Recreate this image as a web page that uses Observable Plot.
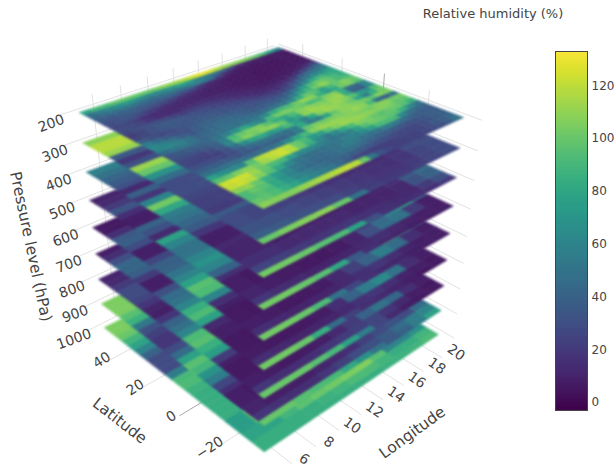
<!DOCTYPE html>
<html><head><meta charset="utf-8">
<script src="https://cdn.jsdelivr.net/npm/d3@7"></script>
<script src="https://cdn.jsdelivr.net/npm/@observablehq/plot@0.6"></script>
<style>
html,body{margin:0;background:#fff}
#wrap{position:relative;width:616px;height:468px;overflow:hidden}
#wrap svg{position:absolute;top:0;left:0}
g.layer{filter:blur(0.9px) saturate(.88)}
g.barfill{filter:saturate(.88)}
</style></head><body><div id="wrap"></div>
<script>
const levels=[200,300,400,500,600,700,800,900,1000];
const lonTicks=[6,8,10,12,14,16,18,20];
const latTicks=[40,20,0,-20];
const barTicks=[0,20,40,60,80,100,120];
const lonRange=[4.73,20.58], latRange=[-36.7,50.2];
// 200 hPa, rows from north to south, columns from west to east
const rh200=[
[80,90,92,97,99,99,99,100,104,108,111,116,122,128,126,118,111,108,106,104,99,92,77,60],
[50,58,63,69,72,68,63,63,66,69,77,72,60,55,50,40,25,12,10,8,8,6,6,8],
[42,45,50,52,52,48,45,48,50,50,52,55,55,45,25,12,8,5,5,5,5,5,5,5],
[36,36,38,40,38,38,36,36,36,30,28,20,12,10,8,6,5,5,4,4,4,4,5,5],
[30,32,34,34,32,28,26,22,18,14,12,10,9,8,6,5,5,4,4,4,4,4,5,5],
[28,30,30,26,20,18,15,13,11,10,9,8,8,7,6,5,5,4,4,4,4,5,5,6],
[26,26,22,16,13,12,11,11,11,10,9,9,8,7,6,5,5,4,4,5,5,6,7,9],
[28,28,24,18,14,13,13,15,15,14,13,12,10,9,7,6,5,5,5,6,7,9,14,25],
[25,28,30,30,28,24,20,22,22,20,18,15,12,10,9,8,7,7,8,10,14,25,35,45],
[20,25,30,34,35,34,32,30,28,25,22,20,16,13,11,10,10,11,14,22,38,48,50,58],
[25,26,30,33,34,33,33,33,32,30,28,26,23,19,15,14,15,20,28,42,52,63,68,77],
[38,30,26,28,31,33,35,35,34,32,30,30,28,26,24,22,24,30,45,60,80,90,84,80],
[55,45,35,30,30,36,40,40,40,38,36,33,32,32,30,32,38,52,75,92,102,99,92,84],
[63,58,50,38,33,38,42,44,44,42,38,35,36,38,38,42,55,77,88,102,110,99,90,90],
[60,63,58,50,40,42,44,46,46,45,44,42,44,48,50,60,80,99,95,77,90,99,106,99],
[45,50,52,48,42,44,48,50,48,50,52,60,80,90,92,102,110,106,84,72,80,102,104,95],
[32,35,38,40,42,50,56,68,80,68,60,90,102,104,102,99,90,92,104,108,85,45,42,60],
[30,30,32,35,40,55,90,99,104,106,95,84,80,92,106,110,106,104,110,111,80,38,36,62],
[26,25,24,28,36,60,95,106,102,108,109,99,72,80,108,112,111,108,111,106,95,75,68,95],
[25,24,22,22,30,45,63,77,80,72,77,90,77,58,80,106,111,110,106,99,77,55,84,102],
[30,30,28,26,28,36,44,48,50,48,46,55,80,55,55,77,99,108,108,104,102,95,106,104],
[38,38,36,34,32,34,36,40,38,40,44,55,99,104,102,104,104,106,111,108,90,45,38,50],
[48,48,48,48,46,44,46,48,52,63,80,90,106,111,111,110,108,106,104,102,106,108,102,102],
[77,68,63,60,95,116,120,122,118,100,92,72,77,95,106,111,111,110,108,106,106,104,97,97],
[95,97,104,108,102,112,118,122,116,99,85,63,52,63,80,92,106,104,99,95,99,99,95,84],
[122,124,122,112,100,92,90,77,63,62,60,55,50,52,58,77,95,102,100,97,95,84,63,50],
[120,122,118,106,95,80,63,52,46,46,48,50,52,56,58,63,77,90,92,90,63,48,42,40],
[108,110,99,84,72,62,52,48,45,44,46,50,55,54,50,48,50,56,54,48,42,38,36,36],
[92,99,95,80,68,58,50,44,42,42,44,48,48,46,42,40,38,36,34,32,32,34,38,38],
[92,95,90,80,70,60,56,50,46,42,40,38,36,34,32,30,28,26,26,26,28,32,36,38],
[99,97,92,84,78,68,60,56,52,44,35,28,24,22,22,22,24,25,24,25,28,34,38,42],
[108,106,106,106,110,112,114,116,118,120,118,100,50,32,25,22,22,24,24,26,28,30,36,48]];
// lower levels: western strip by latitude, north to south
const west300=[108,118,118,111,35,18,30,111,99,68,45,28,28,28,25,22,22,20,35,45,22,15,15,108];
const west400=[58,50,42,36,30,12,38,18,60,102,80,55,50,42,35,18,8,8,12,18,22,20,15,104];
const west500=[10,12,20,33,15,8,8,40,30,12,77,60,50,50,60,68,60,40,15,10,8,8,8,99];
const west600=[6,6,15,35,38,28,8,8,25,38,40,50,60,77,95,92,60,15,8,10,10,8,8,99];
const west700=[8,15,30,42,42,38,20,8,8,30,45,50,60,84,92,77,12,8,8,10,10,10,8,99];
const west800=[10,12,20,28,28,25,18,10,8,18,40,48,60,92,95,85,75,20,8,8,12,10,10,102];
const west900=[104,104,104,95,86,52,30,22,18,18,28,45,77,95,88,68,55,25,15,15,25,30,20,92];
const west1000=[104,104,100,88,78,60,40,28,28,28,55,90,92,86,84,84,84,84,84,84,84,86,88,90];
const west1000far=[104,104,98,92,60,40,25,20,22,30,102,102,88,55,55,60,55,30,28,30,35,55,68,80];
// lower levels: southern strip, rows south to north, columns west to east
const south300=[[99,104,106,108,99,50,22,20,20,22,25,28],[38,35,32,30,28,24,20,18,18,20,25,28],[32,30,28,25,22,20,18,16,16,18,25,28],[28,25,22,20,18,16,14,14,14,18,28,28]];
const south400=[[102,102,99,95,92,77,30,16,14,15,15,20],[25,22,20,18,18,18,16,14,12,12,20,30],[15,14,12,12,12,12,10,10,10,12,32,40],[10,10,8,8,8,8,8,8,10,15,35,45]];
const south500=[[102,102,99,95,80,35,15,12,10,8,8,8],[18,14,12,10,10,10,12,15,12,10,8,8],[10,8,7,6,6,7,10,30,45,50,20,8],[8,6,5,5,5,6,8,14,40,63,77,40]];
const south600=[[102,102,99,92,50,25,15,12,10,8,8,8],[15,12,10,10,10,12,15,18,15,10,8,8],[8,7,6,6,7,12,22,40,55,45,15,8],[6,5,5,5,6,8,14,30,60,90,80,45]];
const south700=[[102,102,99,84,45,22,14,12,10,8,6,6],[14,12,10,10,10,12,16,18,14,10,8,6],[7,6,6,6,7,14,40,55,63,50,14,8],[6,5,5,5,6,8,16,35,50,80,84,55]];
const south800=[[99,99,99,95,90,77,55,25,12,8,6,6],[18,15,14,15,18,20,22,25,18,12,8,6],[8,7,6,7,8,12,20,40,50,42,14,8],[6,5,5,6,7,10,14,25,35,48,50,35]];
const south900=[[99,99,95,92,90,80,68,50,35,40,55,77],[18,16,15,15,18,22,28,30,35,45,55,60],[10,8,8,8,10,12,15,22,28,32,28,45],[8,6,6,6,8,10,12,16,20,30,38,40]];
const south1000=[[84,84,84,84,84,84,84,84,86,86,88,92],[84,84,84,84,86,88,92,92,88,84,84,88],[78,78,88,96,100,102,104,106,95,60,60,68],[75,98,94,63,45,35,30,30,35,28,35,35]];

const wests=[null,west300,west400,west500,west600,west700,west800,west900,west1000];
const souths=[null,south300,south400,south500,south600,south700,south800,south900,south1000];
const southEdges=[0,.03,.07,.13,.22];

// perspective camera: unit cube (u=lon, v=lat, t=level) to picture
function place(u,v,t){
  const w=.19684*u+.18802*v+1+.1785*t;
  return [(291.14*u-169.15*v+263+48.1*t)/w,
          (-67.97*u-74.94*v+208+323.5*t-9.7*v*t-4.2*u*t)/w];
}
const uOf=lon=>(lon-lonRange[0])/(lonRange[1]-lonRange[0]);
const vOf=lat=>(lat-latRange[0])/(latRange[1]-latRange[0]);
const tOf=l=>(l-200)/800;
const cell=(u0,u1,v0,v1,t,value)=>({type:"Polygon",value,coordinates:[[place(u0,v0,t),place(u1,v0,t),place(u1,v1,t),place(u0,v1,t),place(u0,v0,t)]]});

const layerMarks=[];
for(let k=levels.length-1;k>=0;k--){
  const t=tOf(levels[k]);
  const cells=[];
  if(k===0){
    const R=rh200.length,C=rh200[0].length;
    rh200.forEach((row,r)=>row.forEach((val,c)=>{
      cells.push(cell(c/C,(c+1)/C,1-(r+1)/R,1-r/R,t,val));
    }));
  } else {
    if(k===8){
      west1000far.forEach((val,r)=>cells.push(cell(.09,.24,1-(r+1)/24,1-r/24,t,val)));
      wests[k].forEach((val,r)=>cells.push(cell(0,.09,1-(r+1)/24,1-r/24,t,val)));
    } else {
      wests[k].forEach((val,r)=>cells.push(cell(0,.24,1-(r+1)/24,1-r/24,t,val)));
    }
    souths[k].forEach((row,b)=>row.forEach((val,c)=>cells.push(cell(c/12,(c+1)/12,southEdges[b],southEdges[b+1],t,val))));
  }
  layerMarks.push(Plot.geo(cells,{fill:d=>d.value,stroke:d=>d.value,strokeWidth:.6,className:"layer"}));
}

// box grid
const gridSegs=[];
const seg=(a,b,kind)=>gridSegs.push({a,b,kind});
lonTicks.forEach(l=>{const u=uOf(l);seg([u,-.06,1.07],[u,.2,1.07],"g");seg([u,1.03,-.04],[u,1.03,1],"g");});
latTicks.forEach(l=>{const v=vOf(l),k=l===0?"z":"g";seg([-.06,v,1.07],[.2,v,1.07],k);seg([1.03,v,-.04],[1.03,v,1],k);});
levels.forEach(l=>{const t=tOf(l);seg([-.06,1.03,t],[1,1.03,t],"g");seg([1.03,-.06,t],[1.03,1.03,t],"g");});
const segPts=gridSegs.flatMap((s,i)=>[{i,p:place(...s.a),kind:s.kind},{i,p:place(...s.b),kind:s.kind}]);
const lineOf=kind=>Plot.line(segPts.filter(d=>d.kind===kind),{x:d=>d.p[0],y:d=>d.p[1],z:"i",stroke:kind==="z"?"#aaa":"#e2e2e2",strokeWidth:1});

const txt="#444", font="'DejaVu Sans'";
const zLabels=levels.map(l=>{const p=place(-.05,1.03,tOf(l)+.02);return{x:p[0],y:p[1],s:String(l)}});
const latLabels=latTicks.map(l=>{const p=place(-.1,vOf(l),1.05);return{x:p[0],y:p[1],s:String(l).replace("-","\u2212")}});
const lonLabels=lonTicks.map(l=>{const p=place(uOf(l),-.125,1.003);return{x:p[0],y:p[1],s:String(l)}});
const tm=(d,o)=>Plot.text(d,{x:"x",y:"y",text:"s",fill:txt,fontFamily:font,...o});
const one=(p,s)=>[{x:p[0],y:p[1],s}];

const main=Plot.plot({
  width:616,height:468,margin:0,style:{background:"transparent"},
  x:{domain:[0,616],range:[0,616],axis:null},
  y:{domain:[0,468],range:[0,468],axis:null},
  color:{type:"linear",scheme:"viridis",domain:[-3,133]},
  marks:[
    lineOf("g"),lineOf("z"),
    ...layerMarks,
    tm(zLabels,{fontSize:14,rotate:-20,textAnchor:"end"}),
    tm(latLabels,{fontSize:14,rotate:-33}),
    tm(lonLabels,{fontSize:14,rotate:35}),
    tm(one(place(-.22,.6,1.115),"Latitude"),{fontSize:15.5,rotate:38}),
    tm(one(place(.52,-.27,1.06),"Longitude"),{fontSize:15.5,rotate:-36}),
    tm(one(place(-.07,1.4,.75),"Pressure level (hPa)"),{fontSize:15.5,rotate:78}),
    tm([{x:492.5,y:13,s:"Relative humidity (%)"}],{fontSize:13})
  ]
});
const barStops=d3.range(-3,133,1);
const bar=Plot.plot({
  width:616,height:468,marginLeft:555,marginRight:29,marginTop:51,marginBottom:58,
  style:{background:"transparent"},
  y:{domain:[-3,133],axis:null},
  color:{type:"linear",scheme:"viridis",domain:[-3,133]},
  marks:[
    Plot.rect(barStops,{y1:d=>d,y2:d=>Math.min(d+2,133),fill:d=>d,className:"barfill"}),
    Plot.frame({stroke:"#444",strokeWidth:1}),
    Plot.axisY(barTicks,{anchor:"right",tickSize:0,tickPadding:4,fontSize:12,fontFamily:font,color:txt,label:null})
  ]
});
document.getElementById("wrap").append(main,bar);
</script></body></html>
